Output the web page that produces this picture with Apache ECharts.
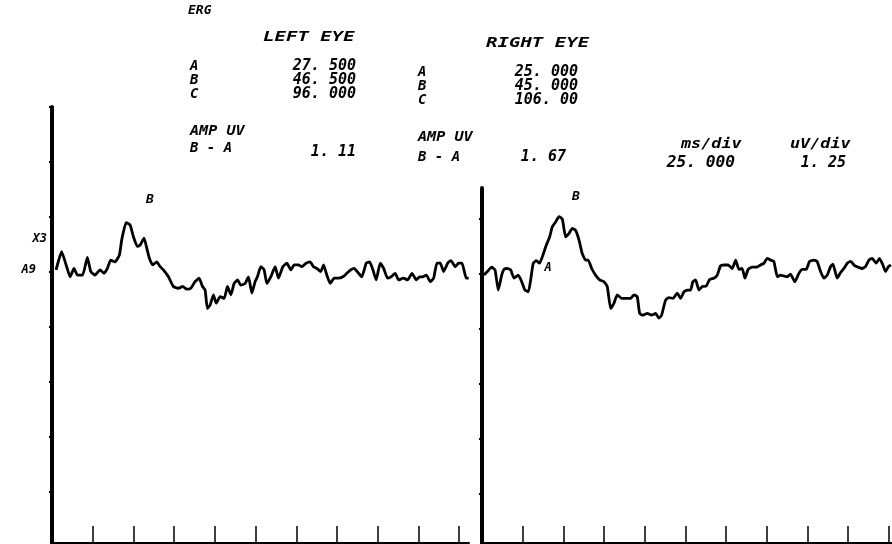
<!DOCTYPE html>
<html>
<head>
<meta charset="utf-8">
<script src="https://cdn.jsdelivr.net/npm/echarts@6/dist/echarts.min.js"></script>
<style>
html,body{margin:0;padding:0;background:#fff;}
#chart{width:892px;height:544px;}
</style>
</head>
<body>
<div id="chart"></div>
<script>
// Left eye trace: time (ms) and amplitude (uV, relative to baseline)
const leftTime = [2.5,5.9,9.0,11.1,13.5,15.6,18.8,21.7,23.8,26.4,29.5,31.9,34.0,36.0,38.7,41.4,42.8,45.5,47.9,50.0,52.4,54.1,56.5,58.2,59.8,61.8,64.3,66.4,68.4,71.5,74.5,77.6,80.3,82.7,85.2,87.8,90.3,92.4,94.0,95.4,97.1,99.1,100.8,103.2,105.7,107.7,109.8,111.8,113.9,115.9,118.6,120.6,122.7,124.7,126.1,128.2,130.2,131.9,134.3,137.0,139.0,141.7,144.2,146.6,148.7,151.3,153.4,156.0,158.5,160.5,162.6,165.0,166.7,168.7,170.8,173.2,175.9,178.6,181.0,183.5,185.5,188.2,190.2,192.9,195.0,197.0,199.0,201.5,203.6,206.0,208.1,210.7,212.8,215.8,218.3,221.0,223.6,225.7,227.7,229.8,232.2,234.3,236.3,238.4,240.4,242.9,244.9,247.6,249.6,251.7,254.3,255.8];
const leftAmp = [0.05,0.46,0.12,-0.11,0.08,-0.07,-0.07,0.33,0.01,-0.07,0.05,-0.03,0.08,0.27,0.23,0.39,0.73,1.12,1.07,0.80,0.58,0.61,0.77,0.54,0.31,0.16,0.23,0.12,0.05,-0.11,-0.33,-0.37,-0.33,-0.39,-0.37,-0.22,-0.14,-0.33,-0.41,-0.83,-0.75,-0.52,-0.71,-0.56,-0.60,-0.33,-0.52,-0.26,-0.18,-0.30,-0.26,-0.11,-0.48,-0.22,-0.11,0.12,0.05,-0.26,-0.11,0.12,-0.14,0.12,0.20,0.05,0.16,0.16,0.12,0.20,0.23,0.12,0.08,0.01,0.16,-0.07,-0.26,-0.14,-0.14,-0.11,-0.03,0.05,0.08,-0.03,-0.11,0.20,0.23,0.05,-0.18,0.20,0.08,-0.14,-0.11,-0.03,-0.18,-0.14,-0.18,-0.03,-0.18,-0.11,-0.11,-0.07,-0.22,-0.14,0.20,0.20,0.01,0.20,0.26,0.12,0.20,0.20,-0.14,-0.14];

// Right eye trace: time (ms) and amplitude (uV)
const rightTime = [1.2,3.3,5.9,8.0,10.0,12.1,13.5,15.6,17.6,19.7,22.3,24.4,26.4,28.5,29.9,31.5,33.4,35.4,37.5,39.5,41.6,43.2,45.3,47.3,49.4,51.4,53.5,55.5,57.5,59.6,61.6,63.7,65.3,67.4,69.8,72.3,75.0,77.0,79.1,81.1,83.1,85.8,88.7,91.3,93.4,95.4,96.9,98.9,101.6,104.2,106.7,108.7,110.4,112.8,114.9,117.4,120.0,122.1,124.1,126.2,128.2,129.6,131.3,133.3,135.4,137.8,139.9,142.5,144.6,146.6,148.7,151.3,153.8,155.9,157.9,159.9,161.6,163.6,166.1,168.6,171.2,173.3,175.3,177.4,179.4,181.5,183.5,185.5,187.6,189.6,192.3,194.8,196.8,199.3,201.3,204.0,206.0,208.1,210.1,212.2,214.2,215.7,218.3,220.4,222.4,224.5,226.5,229.2,231.2,233.7,235.7,237.8,239.8,242.3,244.3,246.4,248.0,249.6,251.3];
const rightAmp = [-0.04,0.04,0.14,0.08,-0.38,-0.04,0.09,0.11,0.08,-0.11,-0.04,-0.19,-0.38,-0.42,-0.15,0.23,0.29,0.23,0.42,0.64,0.83,1.06,1.17,1.29,1.23,0.83,0.91,1.02,0.98,0.76,0.45,0.30,0.30,0.11,-0.04,-0.15,-0.19,-0.30,-0.80,-0.68,-0.49,-0.57,-0.57,-0.57,-0.49,-0.53,-0.91,-0.95,-0.91,-0.95,-0.91,-1.02,-0.95,-0.61,-0.55,-0.57,-0.45,-0.57,-0.42,-0.38,-0.38,-0.19,-0.15,-0.38,-0.30,-0.29,-0.14,-0.11,-0.04,0.17,0.19,0.19,0.11,0.30,0.09,0.11,-0.11,0.09,0.14,0.14,0.19,0.23,0.34,0.30,0.27,-0.08,-0.04,-0.06,-0.08,-0.02,-0.19,0.00,0.09,0.09,0.27,0.30,0.27,0.04,-0.11,-0.04,0.15,0.21,-0.11,0.02,0.11,0.23,0.27,0.17,0.14,0.11,0.15,0.30,0.34,0.23,0.34,0.19,0.04,0.14,0.19];

// Tick positions
const timeTicks = [25,50,75,100,125,150,175,200,225,250];
const leftAmpTicks = [3.75,2.5,1.25,0,-1.25,-2.5,-3.75,-5];
const rightAmpTicks = [1.25,0,-1.25,-2.5,-3.75,-5];

// Text blocks
const leftRows = ['A','B','C'];
const leftVals = ['27. 500','46. 500','96. 000'];
const rightRows = ['A','B','C'];
const rightVals = ['25. 000','45. 000','106. 00'];
const ampLeft = '1. 11';
const ampRight = '1. 67';
const msPerDiv = '25. 000';
const uvPerDiv = '1. 25';

function zip(a, b) { return a.map((v, i) => [v, b[i]]); }

const FONT = '"DejaVu Sans Mono", monospace';
function T(text, x, y, size, align, sx) {
  return {
    type: 'text', x: x, y: y, scaleX: sx || 1,
    style: {
      text: text, x: 0, y: 0, fill: '#000',
      font: 'italic bold ' + size + 'px ' + FONT,
      textAlign: align || 'left', textVerticalAlign: 'middle', verticalAlign: 'middle'
    }
  };
}

const texts = [
  T('ERG', 188, 11, 13, 'left', 1.0),
  T('LEFT EYE', 263, 37, 14, 'left', 1.36),
  T('RIGHT EYE', 486, 43, 14, 'left', 1.36),
  T('AMP UV', 190, 131, 14, 'left', 1.08),
  T('B - A', 190, 148, 14),
  T(ampLeft, 356, 152, 15, 'right'),
  T('AMP UV', 418, 137, 14, 'left', 1.08),
  T('B - A', 418, 157, 14),
  T(ampRight, 566, 157, 15, 'right'),
  T('ms/div', 681, 144, 14, 'left', 1.2),
  T('uV/div', 790, 144, 14, 'left', 1.2),
  T(msPerDiv, 735, 163, 15, 'right', 1.08),
  T(uvPerDiv, 846, 163, 15, 'right'),
  T('B', 150, 200, 13, 'center'),
  T('B', 576, 197, 13, 'center'),
  T('X3', 47, 239, 12, 'right'),
  T('A9', 36, 270, 12, 'right'),
  T('A', 548, 268, 12, 'center')
];
[66, 80, 94].forEach((y, i) => {
  texts.push(T(leftRows[i], 190, y, 14));
  texts.push(T(leftVals[i], 356, y, 15, 'right'));
});
[72, 86, 100].forEach((y, i) => {
  texts.push(T(rightRows[i], 418, y, 14));
  texts.push(T(rightVals[i], 578, y, 15, 'right'));
});

function xAxisCfg(idx, max) {
  return {
    type: 'value', gridIndex: idx, min: 0, max: max,
    axisLine: { show: true, onZero: false, lineStyle: { color: '#000', width: 2 } },
    axisTick: { show: true, inside: true, length: 17, customValues: timeTicks, lineStyle: { color: '#000', width: 1.5 } },
    axisLabel: { show: false }, splitLine: { show: false }
  };
}
function yAxisCfg(idx, min, max, ticks) {
  return {
    type: 'value', gridIndex: idx, min: min, max: max,
    axisLine: { show: true, onZero: false, lineStyle: { color: '#000', width: 4 } },
    axisTick: { show: true, inside: false, length: 3, customValues: ticks, lineStyle: { color: '#000', width: 2 } },
    axisLabel: { show: false }, splitLine: { show: false }
  };
}

const chart = echarts.init(document.getElementById('chart'), null, { renderer: 'canvas' });
chart.setOption({
  animation: false,
  backgroundColor: '#fff',
  grid: [
    { left: 52, top: 107, width: 417, height: 436 },
    { left: 482, top: 188, width: 410, height: 355 }
  ],
  xAxis: [xAxisCfg(0, 256), xAxisCfg(1, 252)],
  yAxis: [yAxisCfg(0, -6.16, 3.75, leftAmpTicks), yAxisCfg(1, -6.13, 1.94, rightAmpTicks)],
  series: [
    { type: 'line', xAxisIndex: 0, yAxisIndex: 0, data: zip(leftTime, leftAmp), showSymbol: false, smooth: 0.15,
      lineStyle: { color: '#000', width: 2.8 } },
    { type: 'line', xAxisIndex: 1, yAxisIndex: 1, data: zip(rightTime, rightAmp), showSymbol: false, smooth: 0.15,
      lineStyle: { color: '#000', width: 2.8 } }
  ],
  graphic: { elements: texts }
});
</script>
</body>
</html>
